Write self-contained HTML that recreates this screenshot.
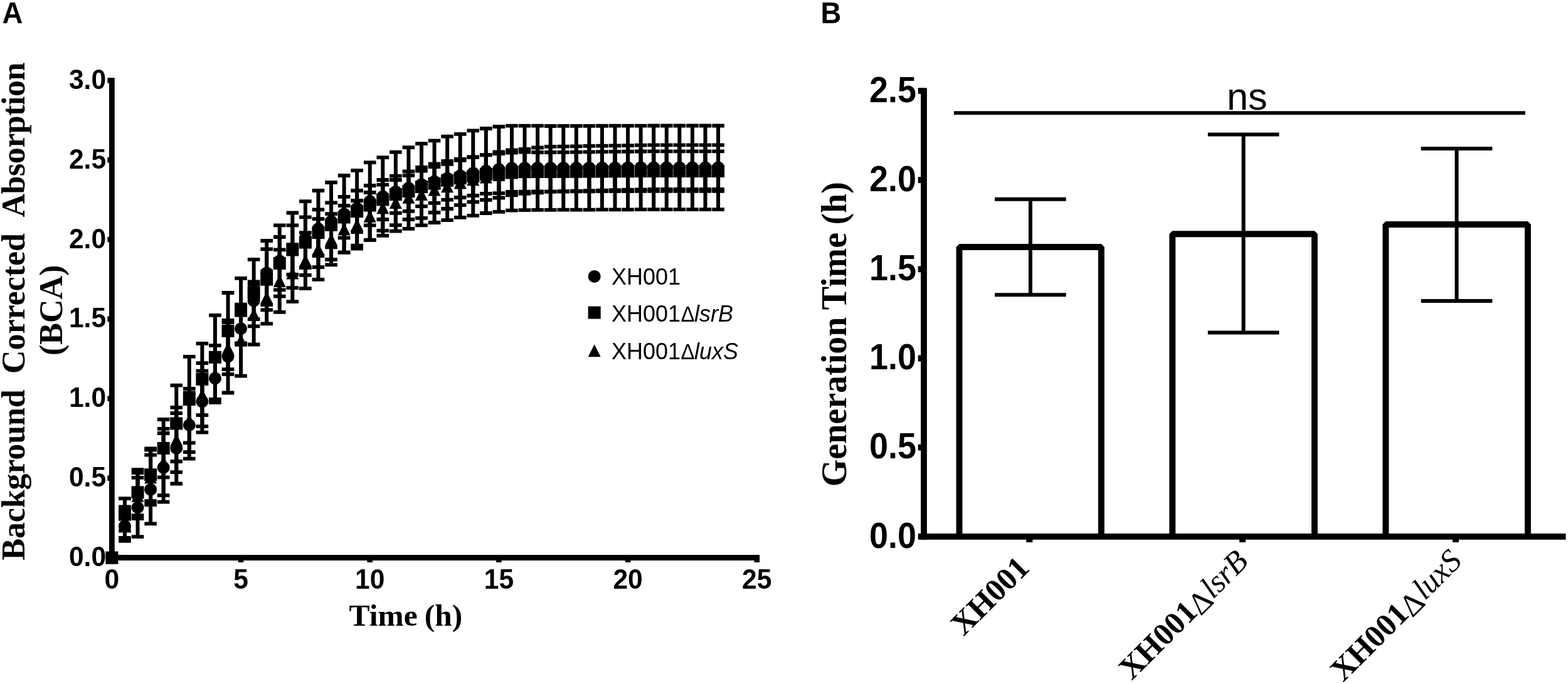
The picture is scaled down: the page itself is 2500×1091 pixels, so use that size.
<!DOCTYPE html>
<html lang="en">
<head>
<meta charset="utf-8">
<title>Growth curves and generation time of XH001, XH001ΔlsrB and XH001ΔluxS</title>
<style>
html,body{margin:0;padding:0;background:#fff;}
body{width:2500px;height:1091px;overflow:hidden;}
svg{display:block;}
text{fill:#000;font-family:"Liberation Sans",sans-serif;}
.plabel{font-weight:700;font-size:45.5px;}
.a-ticks text{font-weight:700;font-size:43px;}
.b-ticks text{font-weight:700;font-size:54.5px;}
.atitle,.xlab{font-family:"Liberation Serif",serif;font-weight:700;}
.a-title{font-size:52px;}
.b-title{font-size:56px;}
.x-title{font-size:49.5px;}
.xlab{font-size:50.6px;}
.xlab .rdelta{font-weight:400;font-size:50.6px;}
.xlab .rit{font-weight:400;font-style:italic;}
.legend text{font-size:36px;}
.legend .it{font-style:italic;}
.legend .delta{font-size:33px;}
.ns{font-size:61.2px;}
</style>
</head>
<body>
<svg width="2500" height="1091" viewBox="0 0 2500 1091" role="img" aria-label="Figure: growth curves (A) and generation time (B)">
<rect width="2500" height="1091" fill="#fff"/>
<g id="panelA">
<text class="plabel" transform="translate(3.6 36.5) scale(1.0 1.045)">A</text>
<g class="axes" stroke="#000" fill="none">
<path d="M178.4 123.9V893.9" stroke-width="8.8"/>
<path d="M174 889.5H1211.08" stroke-width="8.8"/>
<path d="M171.4 889.5H178.4M171.4 762.62H178.4M171.4 635.75H178.4M171.4 508.88H178.4M171.4 382H178.4M171.4 255.12H178.4M171.4 128.25H178.4" stroke-width="8.6"/>
<path d="M178.4 889.5V897.1M384.07 889.5V897.1M589.75 889.5V897.1M795.42 889.5V897.1M1001.1 889.5V897.1M1206.78 889.5V897.1" stroke-width="8.6"/>
</g>
<g class="ticklabels a-ticks">
<text transform="translate(169.1 903) scale(0.99 1.045)" text-anchor="end">0.0</text>
<text transform="translate(169.1 776.12) scale(0.99 1.045)" text-anchor="end">0.5</text>
<text transform="translate(169.1 649.25) scale(0.99 1.045)" text-anchor="end">1.0</text>
<text transform="translate(169.1 522.38) scale(0.99 1.045)" text-anchor="end">1.5</text>
<text transform="translate(169.1 395.5) scale(0.99 1.045)" text-anchor="end">2.0</text>
<text transform="translate(169.1 268.62) scale(0.99 1.045)" text-anchor="end">2.5</text>
<text transform="translate(169.1 141.75) scale(0.99 1.045)" text-anchor="end">3.0</text>
<text transform="translate(178.4 938.7) scale(0.99 1.045)" text-anchor="middle">0</text>
<text transform="translate(384.07 938.7) scale(0.99 1.045)" text-anchor="middle">5</text>
<text transform="translate(589.75 938.7) scale(0.99 1.045)" text-anchor="middle">10</text>
<text transform="translate(795.42 938.7) scale(0.99 1.045)" text-anchor="middle">15</text>
<text transform="translate(1001.1 938.7) scale(0.99 1.045)" text-anchor="middle">20</text>
<text transform="translate(1206.78 938.7) scale(0.99 1.045)" text-anchor="middle">25</text>
</g>
<text class="atitle a-title" transform="translate(39.1 0) rotate(-90)"><tspan x="-893.6" style="letter-spacing:-0.15px">Background </tspan><tspan x="-596" style="letter-spacing:-0.05px">Corrected </tspan><tspan x="-346.6" style="letter-spacing:-0.48px">Absorption</tspan></text>
<text class="atitle a-title" transform="translate(99 0) rotate(-90)" x="-567">(BCA)</text>
<text class="atitle x-title" x="556.6" y="998" style="word-spacing:-1.4px">Time (h)</text>
<g class="data">
<g class="series ci" stroke="#000" fill="#000">
<g class="errorbars" fill="none"><path d="M198.97 815V862.9" stroke-width="6"/><path d="M189.17 815h19.6M189.17 862.9h19.6" stroke-width="5.8"/><path d="M219.53 761.9V856.2" stroke-width="6"/><path d="M209.73 761.9h19.6M209.73 856.2h19.6" stroke-width="5.8"/><path d="M240.1 725.6V835.4" stroke-width="6"/><path d="M230.3 725.6h19.6M230.3 835.4h19.6" stroke-width="5.8"/><path d="M260.67 691V800.7" stroke-width="6"/><path d="M250.87 691h19.6M250.87 800.7h19.6" stroke-width="5.8"/><path d="M281.24 659.1V771.5" stroke-width="6"/><path d="M271.44 659.1h19.6M271.44 771.5h19.6" stroke-width="5.8"/><path d="M301.81 626.4V731.7" stroke-width="6"/><path d="M292 626.4h19.6M292 731.7h19.6" stroke-width="5.8"/><path d="M322.37 591.6V689.6" stroke-width="6"/><path d="M312.57 591.6h19.6M312.57 689.6h19.6" stroke-width="5.8"/><path d="M342.94 569.6V637.2" stroke-width="6"/><path d="M333.14 569.6h19.6M333.14 637.2h19.6" stroke-width="5.8"/><path d="M363.51 511V626.5" stroke-width="6"/><path d="M353.71 511h19.6M353.71 626.5h19.6" stroke-width="5.8"/><path d="M384.07 500V548.4" stroke-width="6"/><path d="M374.27 500h19.6M374.27 548.4h19.6" stroke-width="5.8"/><path d="M404.64 449.4V509.2" stroke-width="6"/><path d="M394.84 449.4h19.6M394.84 509.2h19.6" stroke-width="5.8"/><path d="M425.21 384V486.1" stroke-width="6"/><path d="M415.41 384h19.6M415.41 486.1h19.6" stroke-width="5.8"/><path d="M445.78 359.3V472.6" stroke-width="6"/><path d="M435.98 359.3h19.6M435.98 472.6h19.6" stroke-width="5.8"/><path d="M466.35 339.5V459.1" stroke-width="6"/><path d="M456.55 339.5h19.6M456.55 459.1h19.6" stroke-width="5.8"/><path d="M486.91 321.1V438.8" stroke-width="6"/><path d="M477.11 321.1h19.6M477.11 438.8h19.6" stroke-width="5.8"/><path d="M507.48 304V426.1" stroke-width="6"/><path d="M497.68 304h19.6M497.68 426.1h19.6" stroke-width="5.8"/><path d="M528.05 291V414" stroke-width="6"/><path d="M518.25 291h19.6M518.25 414h19.6" stroke-width="5.8"/><path d="M548.62 280V402.7" stroke-width="6"/><path d="M538.82 280h19.6M538.82 402.7h19.6" stroke-width="5.8"/><path d="M569.18 271.8V391.7" stroke-width="6"/><path d="M559.38 271.8h19.6M559.38 391.7h19.6" stroke-width="5.8"/><path d="M589.75 259.1V382.9" stroke-width="6"/><path d="M579.95 259.1h19.6M579.95 382.9h19.6" stroke-width="5.8"/><path d="M610.32 251.1V375.8" stroke-width="6"/><path d="M600.52 251.1h19.6M600.52 375.8h19.6" stroke-width="5.8"/><path d="M630.88 242.6V368.7" stroke-width="6"/><path d="M621.09 242.6h19.6M621.09 368.7h19.6" stroke-width="5.8"/><path d="M651.45 235.1V364.9" stroke-width="6"/><path d="M641.65 235.1h19.6M641.65 364.9h19.6" stroke-width="5.8"/><path d="M672.02 229.2V359.4" stroke-width="6"/><path d="M662.22 229.2h19.6M662.22 359.4h19.6" stroke-width="5.8"/><path d="M692.59 224.3V355" stroke-width="6"/><path d="M682.79 224.3h19.6M682.79 355h19.6" stroke-width="5.8"/><path d="M713.15 217.7V351.1" stroke-width="6"/><path d="M703.36 217.7h19.6M703.36 351.1h19.6" stroke-width="5.8"/><path d="M733.72 213.8V346.9" stroke-width="6"/><path d="M723.92 213.8h19.6M723.92 346.9h19.6" stroke-width="5.8"/><path d="M754.29 208.3V343.9" stroke-width="6"/><path d="M744.49 208.3h19.6M744.49 343.9h19.6" stroke-width="5.8"/><path d="M774.86 205V340" stroke-width="6"/><path d="M765.06 205h19.6M765.06 340h19.6" stroke-width="5.8"/><path d="M795.42 202V337.8" stroke-width="6"/><path d="M785.62 202h19.6M785.62 337.8h19.6" stroke-width="5.8"/><path d="M815.99 200.6V335.6" stroke-width="6"/><path d="M806.19 200.6h19.6M806.19 335.6h19.6" stroke-width="5.8"/><path d="M836.56 200.6V335.1" stroke-width="6"/><path d="M826.76 200.6h19.6M826.76 335.1h19.6" stroke-width="5.8"/><path d="M857.13 200.6V334.8" stroke-width="6"/><path d="M847.33 200.6h19.6M847.33 334.8h19.6" stroke-width="5.8"/><path d="M877.69 201V334.8" stroke-width="6"/><path d="M867.89 201h19.6M867.89 334.8h19.6" stroke-width="5.8"/><path d="M898.26 200.94V334.71" stroke-width="6"/><path d="M888.46 200.94h19.6M888.46 334.71h19.6" stroke-width="5.8"/><path d="M918.83 200.88V334.62" stroke-width="6"/><path d="M909.03 200.88h19.6M909.03 334.62h19.6" stroke-width="5.8"/><path d="M939.4 200.81V334.54" stroke-width="6"/><path d="M929.6 200.81h19.6M929.6 334.54h19.6" stroke-width="5.8"/><path d="M959.96 200.75V334.45" stroke-width="6"/><path d="M950.16 200.75h19.6M950.16 334.45h19.6" stroke-width="5.8"/><path d="M980.53 200.69V334.36" stroke-width="6"/><path d="M970.73 200.69h19.6M970.73 334.36h19.6" stroke-width="5.8"/><path d="M1001.1 200.62V334.28" stroke-width="6"/><path d="M991.3 200.62h19.6M991.3 334.28h19.6" stroke-width="5.8"/><path d="M1021.67 200.56V334.19" stroke-width="6"/><path d="M1011.87 200.56h19.6M1011.87 334.19h19.6" stroke-width="5.8"/><path d="M1042.23 200.5V334.1" stroke-width="6"/><path d="M1032.43 200.5h19.6M1032.43 334.1h19.6" stroke-width="5.8"/><path d="M1062.8 200.5V334.1" stroke-width="6"/><path d="M1053 200.5h19.6M1053 334.1h19.6" stroke-width="5.8"/><path d="M1083.37 200.5V334.1" stroke-width="6"/><path d="M1073.57 200.5h19.6M1073.57 334.1h19.6" stroke-width="5.8"/><path d="M1103.94 200.5V334.1" stroke-width="6"/><path d="M1094.14 200.5h19.6M1094.14 334.1h19.6" stroke-width="5.8"/><path d="M1124.5 200.5V334.1" stroke-width="6"/><path d="M1114.7 200.5h19.6M1114.7 334.1h19.6" stroke-width="5.8"/><path d="M1145.07 200.5V334.1" stroke-width="6"/><path d="M1135.27 200.5h19.6M1135.27 334.1h19.6" stroke-width="5.8"/></g>
<g class="markers"><circle cx="178.4" cy="889.5" r="10" stroke="none"/><circle cx="198.97" cy="839" r="10" stroke="none"/><circle cx="219.53" cy="809.5" r="10" stroke="none"/><circle cx="240.1" cy="780.7" r="10" stroke="none"/><circle cx="260.67" cy="745.7" r="10" stroke="none"/><circle cx="281.24" cy="715" r="10" stroke="none"/><circle cx="301.81" cy="678" r="10" stroke="none"/><circle cx="322.37" cy="640.4" r="10" stroke="none"/><circle cx="342.94" cy="603.4" r="10" stroke="none"/><circle cx="363.51" cy="568.6" r="10" stroke="none"/><circle cx="384.07" cy="524.2" r="10" stroke="none"/><circle cx="404.64" cy="479.8" r="10" stroke="none"/><circle cx="425.21" cy="435.4" r="10" stroke="none"/><circle cx="445.78" cy="416.3" r="10" stroke="none"/><circle cx="466.35" cy="399.3" r="10" stroke="none"/><circle cx="486.91" cy="380" r="10" stroke="none"/><circle cx="507.48" cy="365" r="10" stroke="none"/><circle cx="528.05" cy="352.8" r="10" stroke="none"/><circle cx="548.62" cy="341.3" r="10" stroke="none"/><circle cx="569.18" cy="332" r="10" stroke="none"/><circle cx="589.75" cy="321" r="10" stroke="none"/><circle cx="610.32" cy="313.6" r="10" stroke="none"/><circle cx="630.88" cy="305.7" r="10" stroke="none"/><circle cx="651.45" cy="300.1" r="10" stroke="none"/><circle cx="672.02" cy="294.3" r="10" stroke="none"/><circle cx="692.59" cy="289.5" r="10" stroke="none"/><circle cx="713.15" cy="284.4" r="10" stroke="none"/><circle cx="733.72" cy="280.3" r="10" stroke="none"/><circle cx="754.29" cy="276.1" r="10" stroke="none"/><circle cx="774.86" cy="272.5" r="10" stroke="none"/><circle cx="795.42" cy="269.9" r="10" stroke="none"/><circle cx="815.99" cy="268.1" r="10" stroke="none"/><circle cx="836.56" cy="267.9" r="10" stroke="none"/><circle cx="857.13" cy="267.8" r="10" stroke="none"/><circle cx="877.69" cy="267.9" r="10" stroke="none"/><circle cx="898.26" cy="267.81" r="10" stroke="none"/><circle cx="918.83" cy="267.72" r="10" stroke="none"/><circle cx="939.4" cy="267.64" r="10" stroke="none"/><circle cx="959.96" cy="267.55" r="10" stroke="none"/><circle cx="980.53" cy="267.46" r="10" stroke="none"/><circle cx="1001.1" cy="267.38" r="10" stroke="none"/><circle cx="1021.67" cy="267.29" r="10" stroke="none"/><circle cx="1042.23" cy="267.2" r="10" stroke="none"/><circle cx="1062.8" cy="267.2" r="10" stroke="none"/><circle cx="1083.37" cy="267.2" r="10" stroke="none"/><circle cx="1103.94" cy="267.2" r="10" stroke="none"/><circle cx="1124.5" cy="267.2" r="10" stroke="none"/><circle cx="1145.07" cy="267.2" r="10" stroke="none"/></g>
</g>
<g class="series sq" stroke="#000" fill="#000">
<g class="errorbars" fill="none"><path d="M198.97 795.2V846.6" stroke-width="6"/><path d="M189.17 795.2h19.6M189.17 846.6h19.6" stroke-width="5.8"/><path d="M219.53 749.1V822.2" stroke-width="6"/><path d="M209.73 749.1h19.6M209.73 822.2h19.6" stroke-width="5.8"/><path d="M240.1 715.5V799.1" stroke-width="6"/><path d="M230.3 715.5h19.6M230.3 799.1h19.6" stroke-width="5.8"/><path d="M260.67 669V761.3" stroke-width="6"/><path d="M250.87 669h19.6M250.87 761.3h19.6" stroke-width="5.8"/><path d="M281.24 614.7V736" stroke-width="6"/><path d="M271.44 614.7h19.6M271.44 736h19.6" stroke-width="5.8"/><path d="M301.81 568.8V706.4" stroke-width="6"/><path d="M292 568.8h19.6M292 706.4h19.6" stroke-width="5.8"/><path d="M322.37 547.9V662.1" stroke-width="6"/><path d="M312.57 547.9h19.6M312.57 662.1h19.6" stroke-width="5.8"/><path d="M342.94 502.8V637.2" stroke-width="6"/><path d="M333.14 502.8h19.6M333.14 637.2h19.6" stroke-width="5.8"/><path d="M363.51 467V589.1" stroke-width="6"/><path d="M353.71 467h19.6M353.71 589.1h19.6" stroke-width="5.8"/><path d="M384.07 443.9V547.3" stroke-width="6"/><path d="M374.27 443.9h19.6M374.27 547.3h19.6" stroke-width="5.8"/><path d="M404.64 413.8V520.4" stroke-width="6"/><path d="M394.84 413.8h19.6M394.84 520.4h19.6" stroke-width="5.8"/><path d="M425.21 397.3V494.3" stroke-width="6"/><path d="M415.41 397.3h19.6M415.41 494.3h19.6" stroke-width="5.8"/><path d="M445.78 378V462.4" stroke-width="6"/><path d="M435.98 378h19.6M435.98 462.4h19.6" stroke-width="5.8"/><path d="M466.35 359.3V438" stroke-width="6"/><path d="M456.55 359.3h19.6M456.55 438h19.6" stroke-width="5.8"/><path d="M486.91 346.4V427" stroke-width="6"/><path d="M477.11 346.4h19.6M477.11 427h19.6" stroke-width="5.8"/><path d="M507.48 334.3V408" stroke-width="6"/><path d="M497.68 334.3h19.6M497.68 408h19.6" stroke-width="5.8"/><path d="M528.05 323.3V394.3" stroke-width="6"/><path d="M518.25 323.3h19.6M518.25 394.3h19.6" stroke-width="5.8"/><path d="M548.62 313.9V379.4" stroke-width="6"/><path d="M538.82 313.9h19.6M538.82 379.4h19.6" stroke-width="5.8"/><path d="M569.18 304V370.2" stroke-width="6"/><path d="M559.38 304h19.6M559.38 370.2h19.6" stroke-width="5.8"/><path d="M589.75 296V359.3" stroke-width="6"/><path d="M579.95 296h19.6M579.95 359.3h19.6" stroke-width="5.8"/><path d="M610.32 287V350" stroke-width="6"/><path d="M600.52 287h19.6M600.52 350h19.6" stroke-width="5.8"/><path d="M630.88 280.7V339.8" stroke-width="6"/><path d="M621.09 280.7h19.6M621.09 339.8h19.6" stroke-width="5.8"/><path d="M651.45 273.4V336.8" stroke-width="6"/><path d="M641.65 273.4h19.6M641.65 336.8h19.6" stroke-width="5.8"/><path d="M672.02 267V329.1" stroke-width="6"/><path d="M662.22 267h19.6M662.22 329.1h19.6" stroke-width="5.8"/><path d="M692.59 261.5V323.9" stroke-width="6"/><path d="M682.79 261.5h19.6M682.79 323.9h19.6" stroke-width="5.8"/><path d="M713.15 257V318.7" stroke-width="6"/><path d="M703.36 257h19.6M703.36 318.7h19.6" stroke-width="5.8"/><path d="M733.72 253.7V315" stroke-width="6"/><path d="M723.92 253.7h19.6M723.92 315h19.6" stroke-width="5.8"/><path d="M754.29 250.7V312" stroke-width="6"/><path d="M744.49 250.7h19.6M744.49 312h19.6" stroke-width="5.8"/><path d="M774.86 247.4V308.9" stroke-width="6"/><path d="M765.06 247.4h19.6M765.06 308.9h19.6" stroke-width="5.8"/><path d="M795.42 245V308.1" stroke-width="6"/><path d="M785.62 245h19.6M785.62 308.1h19.6" stroke-width="5.8"/><path d="M815.99 243.7V306" stroke-width="6"/><path d="M806.19 243.7h19.6M806.19 306h19.6" stroke-width="5.8"/><path d="M836.56 242.6V305.7" stroke-width="6"/><path d="M826.76 242.6h19.6M826.76 305.7h19.6" stroke-width="5.8"/><path d="M857.13 243V305.5" stroke-width="6"/><path d="M847.33 243h19.6M847.33 305.5h19.6" stroke-width="5.8"/><path d="M877.69 243V305.6" stroke-width="6"/><path d="M867.89 243h19.6M867.89 305.6h19.6" stroke-width="5.8"/><path d="M898.26 242.79V305.5" stroke-width="6"/><path d="M888.46 242.79h19.6M888.46 305.5h19.6" stroke-width="5.8"/><path d="M918.83 242.57V305.4" stroke-width="6"/><path d="M909.03 242.57h19.6M909.03 305.4h19.6" stroke-width="5.8"/><path d="M939.4 242.36V305.3" stroke-width="6"/><path d="M929.6 242.36h19.6M929.6 305.3h19.6" stroke-width="5.8"/><path d="M959.96 242.15V305.2" stroke-width="6"/><path d="M950.16 242.15h19.6M950.16 305.2h19.6" stroke-width="5.8"/><path d="M980.53 241.94V305.1" stroke-width="6"/><path d="M970.73 241.94h19.6M970.73 305.1h19.6" stroke-width="5.8"/><path d="M1001.1 241.73V305" stroke-width="6"/><path d="M991.3 241.73h19.6M991.3 305h19.6" stroke-width="5.8"/><path d="M1021.67 241.51V304.9" stroke-width="6"/><path d="M1011.87 241.51h19.6M1011.87 304.9h19.6" stroke-width="5.8"/><path d="M1042.23 241.3V304.8" stroke-width="6"/><path d="M1032.43 241.3h19.6M1032.43 304.8h19.6" stroke-width="5.8"/><path d="M1062.8 241.3V304.8" stroke-width="6"/><path d="M1053 241.3h19.6M1053 304.8h19.6" stroke-width="5.8"/><path d="M1083.37 241.3V304.8" stroke-width="6"/><path d="M1073.57 241.3h19.6M1073.57 304.8h19.6" stroke-width="5.8"/><path d="M1103.94 241.3V304.8" stroke-width="6"/><path d="M1094.14 241.3h19.6M1094.14 304.8h19.6" stroke-width="5.8"/><path d="M1124.5 241.3V304.8" stroke-width="6"/><path d="M1114.7 241.3h19.6M1114.7 304.8h19.6" stroke-width="5.8"/><path d="M1145.07 241.3V304.8" stroke-width="6"/><path d="M1135.27 241.3h19.6M1135.27 304.8h19.6" stroke-width="5.8"/></g>
<g class="markers"><rect x="168.4" y="879.5" width="20" height="20" stroke="none"/><rect x="188.97" y="810.7" width="20" height="20" stroke="none"/><rect x="209.53" y="775.35" width="20" height="20" stroke="none"/><rect x="230.1" y="747.2" width="20" height="20" stroke="none"/><rect x="250.67" y="705" width="20" height="20" stroke="none"/><rect x="271.24" y="665.5" width="20" height="20" stroke="none"/><rect x="291.81" y="627" width="20" height="20" stroke="none"/><rect x="312.37" y="594.9" width="20" height="20" stroke="none"/><rect x="332.94" y="559.8" width="20" height="20" stroke="none"/><rect x="353.51" y="517.9" width="20" height="20" stroke="none"/><rect x="374.07" y="485.6" width="20" height="20" stroke="none"/><rect x="394.64" y="456.6" width="20" height="20" stroke="none"/><rect x="415.21" y="435.7" width="20" height="20" stroke="none"/><rect x="435.78" y="410" width="20" height="20" stroke="none"/><rect x="456.35" y="388.5" width="20" height="20" stroke="none"/><rect x="476.91" y="376.6" width="20" height="20" stroke="none"/><rect x="497.48" y="361" width="20" height="20" stroke="none"/><rect x="518.05" y="348.7" width="20" height="20" stroke="none"/><rect x="538.62" y="336.5" width="20" height="20" stroke="none"/><rect x="559.18" y="327.1" width="20" height="20" stroke="none"/><rect x="579.75" y="317.6" width="20" height="20" stroke="none"/><rect x="600.32" y="308.4" width="20" height="20" stroke="none"/><rect x="620.88" y="300.2" width="20" height="20" stroke="none"/><rect x="641.45" y="295.1" width="20" height="20" stroke="none"/><rect x="662.02" y="288.1" width="20" height="20" stroke="none"/><rect x="682.59" y="282.7" width="20" height="20" stroke="none"/><rect x="703.15" y="277.8" width="20" height="20" stroke="none"/><rect x="723.72" y="274.3" width="20" height="20" stroke="none"/><rect x="744.29" y="271.4" width="20" height="20" stroke="none"/><rect x="764.86" y="268.1" width="20" height="20" stroke="none"/><rect x="785.42" y="266.5" width="20" height="20" stroke="none"/><rect x="805.99" y="264.7" width="20" height="20" stroke="none"/><rect x="826.56" y="264.2" width="20" height="20" stroke="none"/><rect x="847.13" y="264" width="20" height="20" stroke="none"/><rect x="867.69" y="264" width="20" height="20" stroke="none"/><rect x="888.26" y="263.88" width="20" height="20" stroke="none"/><rect x="908.83" y="263.75" width="20" height="20" stroke="none"/><rect x="929.4" y="263.62" width="20" height="20" stroke="none"/><rect x="949.96" y="263.5" width="20" height="20" stroke="none"/><rect x="970.53" y="263.38" width="20" height="20" stroke="none"/><rect x="991.1" y="263.25" width="20" height="20" stroke="none"/><rect x="1011.67" y="263.12" width="20" height="20" stroke="none"/><rect x="1032.23" y="263" width="20" height="20" stroke="none"/><rect x="1052.8" y="263" width="20" height="20" stroke="none"/><rect x="1073.37" y="263" width="20" height="20" stroke="none"/><rect x="1093.94" y="263" width="20" height="20" stroke="none"/><rect x="1114.5" y="263" width="20" height="20" stroke="none"/><rect x="1135.07" y="263" width="20" height="20" stroke="none"/></g>
</g>
<g class="series tri" stroke="#000" fill="#000">
<g class="errorbars" fill="none"><path d="M198.97 808.3V857.8" stroke-width="6"/><path d="M189.17 808.3h19.6M189.17 857.8h19.6" stroke-width="5.8"/><path d="M219.53 754V827" stroke-width="6"/><path d="M209.73 754h19.6M209.73 827h19.6" stroke-width="5.8"/><path d="M240.1 717.6V805" stroke-width="6"/><path d="M230.3 717.6h19.6M230.3 805h19.6" stroke-width="5.8"/><path d="M260.67 683.8V790.2" stroke-width="6"/><path d="M250.87 683.8h19.6M250.87 790.2h19.6" stroke-width="5.8"/><path d="M281.24 649.9V753.1" stroke-width="6"/><path d="M271.44 649.9h19.6M271.44 753.1h19.6" stroke-width="5.8"/><path d="M301.81 619.9V721.2" stroke-width="6"/><path d="M292 619.9h19.6M292 721.2h19.6" stroke-width="5.8"/><path d="M322.37 579.2V680.2" stroke-width="6"/><path d="M312.57 579.2h19.6M312.57 680.2h19.6" stroke-width="5.8"/><path d="M342.94 551.2V642.2" stroke-width="6"/><path d="M333.14 551.2h19.6M333.14 642.2h19.6" stroke-width="5.8"/><path d="M363.51 514V596.8" stroke-width="6"/><path d="M353.71 514h19.6M353.71 596.8h19.6" stroke-width="5.8"/><path d="M384.07 485.7V599.6" stroke-width="6"/><path d="M374.27 485.7h19.6M374.27 599.6h19.6" stroke-width="5.8"/><path d="M404.64 453.9V549.5" stroke-width="6"/><path d="M394.84 453.9h19.6M394.84 549.5h19.6" stroke-width="5.8"/><path d="M425.21 432.7V516.3" stroke-width="6"/><path d="M415.41 432.7h19.6M415.41 516.3h19.6" stroke-width="5.8"/><path d="M445.78 398.4V497.9" stroke-width="6"/><path d="M435.98 398.4h19.6M435.98 497.9h19.6" stroke-width="5.8"/><path d="M466.35 390.1V481.1" stroke-width="6"/><path d="M456.55 390.1h19.6M456.55 481.1h19.6" stroke-width="5.8"/><path d="M486.91 371.1V460.2" stroke-width="6"/><path d="M477.11 371.1h19.6M477.11 460.2h19.6" stroke-width="5.8"/><path d="M507.48 349.1V445.9" stroke-width="6"/><path d="M497.68 349.1h19.6M497.68 445.9h19.6" stroke-width="5.8"/><path d="M528.05 341.1V422.3" stroke-width="6"/><path d="M518.25 341.1h19.6M518.25 422.3h19.6" stroke-width="5.8"/><path d="M548.62 328V402.7" stroke-width="6"/><path d="M538.82 328h19.6M538.82 402.7h19.6" stroke-width="5.8"/><path d="M569.18 320V396.7" stroke-width="6"/><path d="M559.38 320h19.6M559.38 396.7h19.6" stroke-width="5.8"/><path d="M589.75 307V382.7" stroke-width="6"/><path d="M579.95 307h19.6M579.95 382.7h19.6" stroke-width="5.8"/><path d="M610.32 294.7V367.9" stroke-width="6"/><path d="M600.52 294.7h19.6M600.52 367.9h19.6" stroke-width="5.8"/><path d="M630.88 287V359.1" stroke-width="6"/><path d="M621.09 287h19.6M621.09 359.1h19.6" stroke-width="5.8"/><path d="M651.45 279.8V350" stroke-width="6"/><path d="M641.65 279.8h19.6M641.65 350h19.6" stroke-width="5.8"/><path d="M672.02 272.7V347.8" stroke-width="6"/><path d="M662.22 272.7h19.6M662.22 347.8h19.6" stroke-width="5.8"/><path d="M692.59 266.2V339" stroke-width="6"/><path d="M682.79 266.2h19.6M682.79 339h19.6" stroke-width="5.8"/><path d="M713.15 261.8V333" stroke-width="6"/><path d="M703.36 261.8h19.6M703.36 333h19.6" stroke-width="5.8"/><path d="M733.72 255.8V327.1" stroke-width="6"/><path d="M723.92 255.8h19.6M723.92 327.1h19.6" stroke-width="5.8"/><path d="M754.29 250.5V322.1" stroke-width="6"/><path d="M744.49 250.5h19.6M744.49 322.1h19.6" stroke-width="5.8"/><path d="M774.86 247.2V318.8" stroke-width="6"/><path d="M765.06 247.2h19.6M765.06 318.8h19.6" stroke-width="5.8"/><path d="M795.42 242.5V315.5" stroke-width="6"/><path d="M785.62 242.5h19.6M785.62 315.5h19.6" stroke-width="5.8"/><path d="M815.99 239.4V311.3" stroke-width="6"/><path d="M806.19 239.4h19.6M806.19 311.3h19.6" stroke-width="5.8"/><path d="M836.56 237.8V308.9" stroke-width="6"/><path d="M826.76 237.8h19.6M826.76 308.9h19.6" stroke-width="5.8"/><path d="M857.13 235.5V307.3" stroke-width="6"/><path d="M847.33 235.5h19.6M847.33 307.3h19.6" stroke-width="5.8"/><path d="M877.69 233.9V305.6" stroke-width="6"/><path d="M867.89 233.9h19.6M867.89 305.6h19.6" stroke-width="5.8"/><path d="M898.26 233.59V305.12" stroke-width="6"/><path d="M888.46 233.59h19.6M888.46 305.12h19.6" stroke-width="5.8"/><path d="M918.83 233.28V304.65" stroke-width="6"/><path d="M909.03 233.28h19.6M909.03 304.65h19.6" stroke-width="5.8"/><path d="M939.4 232.96V304.18" stroke-width="6"/><path d="M929.6 232.96h19.6M929.6 304.18h19.6" stroke-width="5.8"/><path d="M959.96 232.65V303.7" stroke-width="6"/><path d="M950.16 232.65h19.6M950.16 303.7h19.6" stroke-width="5.8"/><path d="M980.53 232.34V303.23" stroke-width="6"/><path d="M970.73 232.34h19.6M970.73 303.23h19.6" stroke-width="5.8"/><path d="M1001.1 232.03V302.75" stroke-width="6"/><path d="M991.3 232.03h19.6M991.3 302.75h19.6" stroke-width="5.8"/><path d="M1021.67 231.71V302.28" stroke-width="6"/><path d="M1011.87 231.71h19.6M1011.87 302.28h19.6" stroke-width="5.8"/><path d="M1042.23 231.4V301.8" stroke-width="6"/><path d="M1032.43 231.4h19.6M1032.43 301.8h19.6" stroke-width="5.8"/><path d="M1062.8 231.4V301.8" stroke-width="6"/><path d="M1053 231.4h19.6M1053 301.8h19.6" stroke-width="5.8"/><path d="M1083.37 231.4V301.8" stroke-width="6"/><path d="M1073.57 231.4h19.6M1073.57 301.8h19.6" stroke-width="5.8"/><path d="M1103.94 231.4V301.8" stroke-width="6"/><path d="M1094.14 231.4h19.6M1094.14 301.8h19.6" stroke-width="5.8"/><path d="M1124.5 231.4V301.8" stroke-width="6"/><path d="M1114.7 231.4h19.6M1114.7 301.8h19.6" stroke-width="5.8"/><path d="M1145.07 231.4V301.8" stroke-width="6"/><path d="M1135.27 231.4h19.6M1135.27 301.8h19.6" stroke-width="5.8"/></g>
<g class="markers"><path d="M178.4 879.5L188.4 899.5H168.4Z" stroke="none"/><path d="M198.97 822.85L208.97 842.85H188.97Z" stroke="none"/><path d="M219.53 780.7L229.53 800.7H209.53Z" stroke="none"/><path d="M240.1 751.3L250.1 771.3H230.1Z" stroke="none"/><path d="M260.67 727L270.67 747H250.67Z" stroke="none"/><path d="M281.24 691.5L291.24 711.5H271.24Z" stroke="none"/><path d="M301.81 660.5L311.81 680.5H291.81Z" stroke="none"/><path d="M322.37 619.7L332.37 639.7H312.37Z" stroke="none"/><path d="M342.94 586.7L352.94 606.7H332.94Z" stroke="none"/><path d="M363.51 545.4L373.51 565.4H353.51Z" stroke="none"/><path d="M384.07 532.65L394.07 552.65H374.07Z" stroke="none"/><path d="M404.64 491L414.64 511H394.64Z" stroke="none"/><path d="M425.21 464.5L435.21 484.5H415.21Z" stroke="none"/><path d="M445.78 438.1L455.78 458.1H435.78Z" stroke="none"/><path d="M466.35 425.6L476.35 445.6H456.35Z" stroke="none"/><path d="M486.91 405.6L496.91 425.6H476.91Z" stroke="none"/><path d="M507.48 387.3L517.48 407.3H497.48Z" stroke="none"/><path d="M528.05 371.7L538.05 391.7H518.05Z" stroke="none"/><path d="M548.62 355.3L558.62 375.3H538.62Z" stroke="none"/><path d="M569.18 348.4L579.18 368.4H559.18Z" stroke="none"/><path d="M589.75 334.8L599.75 354.8H579.75Z" stroke="none"/><path d="M610.32 321.3L620.32 341.3H600.32Z" stroke="none"/><path d="M630.88 313L640.88 333H620.88Z" stroke="none"/><path d="M651.45 304.8L661.45 324.8H641.45Z" stroke="none"/><path d="M672.02 300L682.02 320H662.02Z" stroke="none"/><path d="M692.59 292.5L702.59 312.5H682.59Z" stroke="none"/><path d="M713.15 287.2L723.15 307.2H703.15Z" stroke="none"/><path d="M733.72 281.4L743.72 301.4H723.72Z" stroke="none"/><path d="M754.29 276.3L764.29 296.3H744.29Z" stroke="none"/><path d="M774.86 272.4L784.86 292.4H764.86Z" stroke="none"/><path d="M795.42 269L805.42 289H785.42Z" stroke="none"/><path d="M815.99 265.5L825.99 285.5H805.99Z" stroke="none"/><path d="M836.56 263.4L846.56 283.4H826.56Z" stroke="none"/><path d="M857.13 261.4L867.13 281.4H847.13Z" stroke="none"/><path d="M877.69 259.8L887.69 279.8H867.69Z" stroke="none"/><path d="M898.26 259.4L908.26 279.4H888.26Z" stroke="none"/><path d="M918.83 259L928.83 279H908.83Z" stroke="none"/><path d="M939.4 258.6L949.4 278.6H929.4Z" stroke="none"/><path d="M959.96 258.2L969.96 278.2H949.96Z" stroke="none"/><path d="M980.53 257.8L990.53 277.8H970.53Z" stroke="none"/><path d="M1001.1 257.4L1011.1 277.4H991.1Z" stroke="none"/><path d="M1021.67 257L1031.67 277H1011.67Z" stroke="none"/><path d="M1042.23 256.6L1052.23 276.6H1032.23Z" stroke="none"/><path d="M1062.8 256.6L1072.8 276.6H1052.8Z" stroke="none"/><path d="M1083.37 256.6L1093.37 276.6H1073.37Z" stroke="none"/><path d="M1103.94 256.6L1113.94 276.6H1093.94Z" stroke="none"/><path d="M1124.5 256.6L1134.5 276.6H1114.5Z" stroke="none"/><path d="M1145.07 256.6L1155.07 276.6H1135.07Z" stroke="none"/></g>
</g>
</g>
<g class="legend">
<circle cx="947.7" cy="440.9" r="10"/>
<rect x="937.7" y="488.6" width="20" height="20"/>
<path d="M947.7 549.3L957.7 569.3H937.7Z"/>
<text transform="translate(975 453.7) scale(1.0 1.045)">XH001</text>
<text transform="translate(975 512.6) scale(1.0 1.045)">XH001<tspan class="delta" dx="0.5">Δ</tspan><tspan class="it" dx="-0.5" style="letter-spacing:0px">lsrB</tspan></text>
<text transform="translate(975 572.5) scale(1.0 1.045)">XH001<tspan class="delta" dx="0.5">Δ</tspan><tspan class="it" dx="-0.5" style="letter-spacing:0px">luxS</tspan></text>
</g>
</g>
<g id="panelB">
<text class="plabel" transform="translate(1308.5 36.5) scale(1.0 1.045)">B</text>
<g class="axes" stroke="#000" fill="none">
<path d="M1473 140.2V860.8" stroke-width="9.8"/>
<path d="M1468.1 855.9H2496.5" stroke-width="9.8"/>
<path d="M1463.7 855.9H1473M1463.7 713.7H1473M1463.7 571.5H1473M1463.7 429.3H1473M1463.7 287.1H1473M1463.7 144.9H1473" stroke-width="9.8"/>
</g>
<g class="bars" stroke="#000" fill="none">
<path d="M1529.5 855.9V394H1755.9V855.9" stroke-width="9.9" stroke-linejoin="bevel"/>
<path d="M1642.9 317.8V470.2M1586.1 317.8h113.6M1586.1 470.2h113.6" stroke-width="6"/>
<path d="M1869.3 855.9V373.3H2095.9V855.9" stroke-width="9.9" stroke-linejoin="bevel"/>
<path d="M1982.6 214.5V530.6M1925.8 214.5h113.6M1925.8 530.6h113.6" stroke-width="6"/>
<path d="M2209.4 855.9V358H2435.9V855.9" stroke-width="9.9" stroke-linejoin="bevel"/>
<path d="M2322.5 236.9V480.1M2265.7 236.9h113.6M2265.7 480.1h113.6" stroke-width="6"/>
<path d="M1641.3 855.9V864.9M1981 855.9V864.9M2320.9 855.9V864.9" stroke-width="10"/>
<path d="M1520.9 180.1H2431.8" stroke-width="5.8"/>
</g>
<text class="ns" x="1988.2" y="174.7" text-anchor="middle">ns</text>
<g class="ticklabels b-ticks">
<text transform="translate(1461 873.5) scale(0.99 1.045)" text-anchor="end">0.0</text>
<text transform="translate(1461 731.3) scale(0.99 1.045)" text-anchor="end">0.5</text>
<text transform="translate(1461 589.1) scale(0.99 1.045)" text-anchor="end">1.0</text>
<text transform="translate(1461 446.9) scale(0.99 1.045)" text-anchor="end">1.5</text>
<text transform="translate(1461 304.7) scale(0.99 1.045)" text-anchor="end">2.0</text>
<text transform="translate(1461 162.5) scale(0.99 1.045)" text-anchor="end">2.5</text>
</g>
<text class="atitle b-title" transform="translate(1349.3 0) rotate(-90)" x="-776.2" style="word-spacing:-1.7px">Generation Time (h)</text>
<text class="xlab" transform="translate(1643.7 908.4) rotate(-45)"><tspan x="-151.8">XH001</tspan></text>
<text class="xlab" transform="translate(1982.9 907.6) rotate(-45)"><tspan x="-252.7">XH001</tspan><tspan class="rdelta" x="-102" dy="5.3">Δ</tspan><tspan class="rit" x="-69" dy="-5.3" style="letter-spacing:-0.5px">lsrB</tspan></text>
<text class="xlab" transform="translate(2322.9 907.6) rotate(-45)"><tspan x="-256.7">XH001</tspan><tspan class="rdelta" x="-106" dy="5.3">Δ</tspan><tspan class="rit" x="-72" dy="-5.3" style="letter-spacing:-0.2px">luxS</tspan></text>
</g>
</svg>
</body>
</html>
